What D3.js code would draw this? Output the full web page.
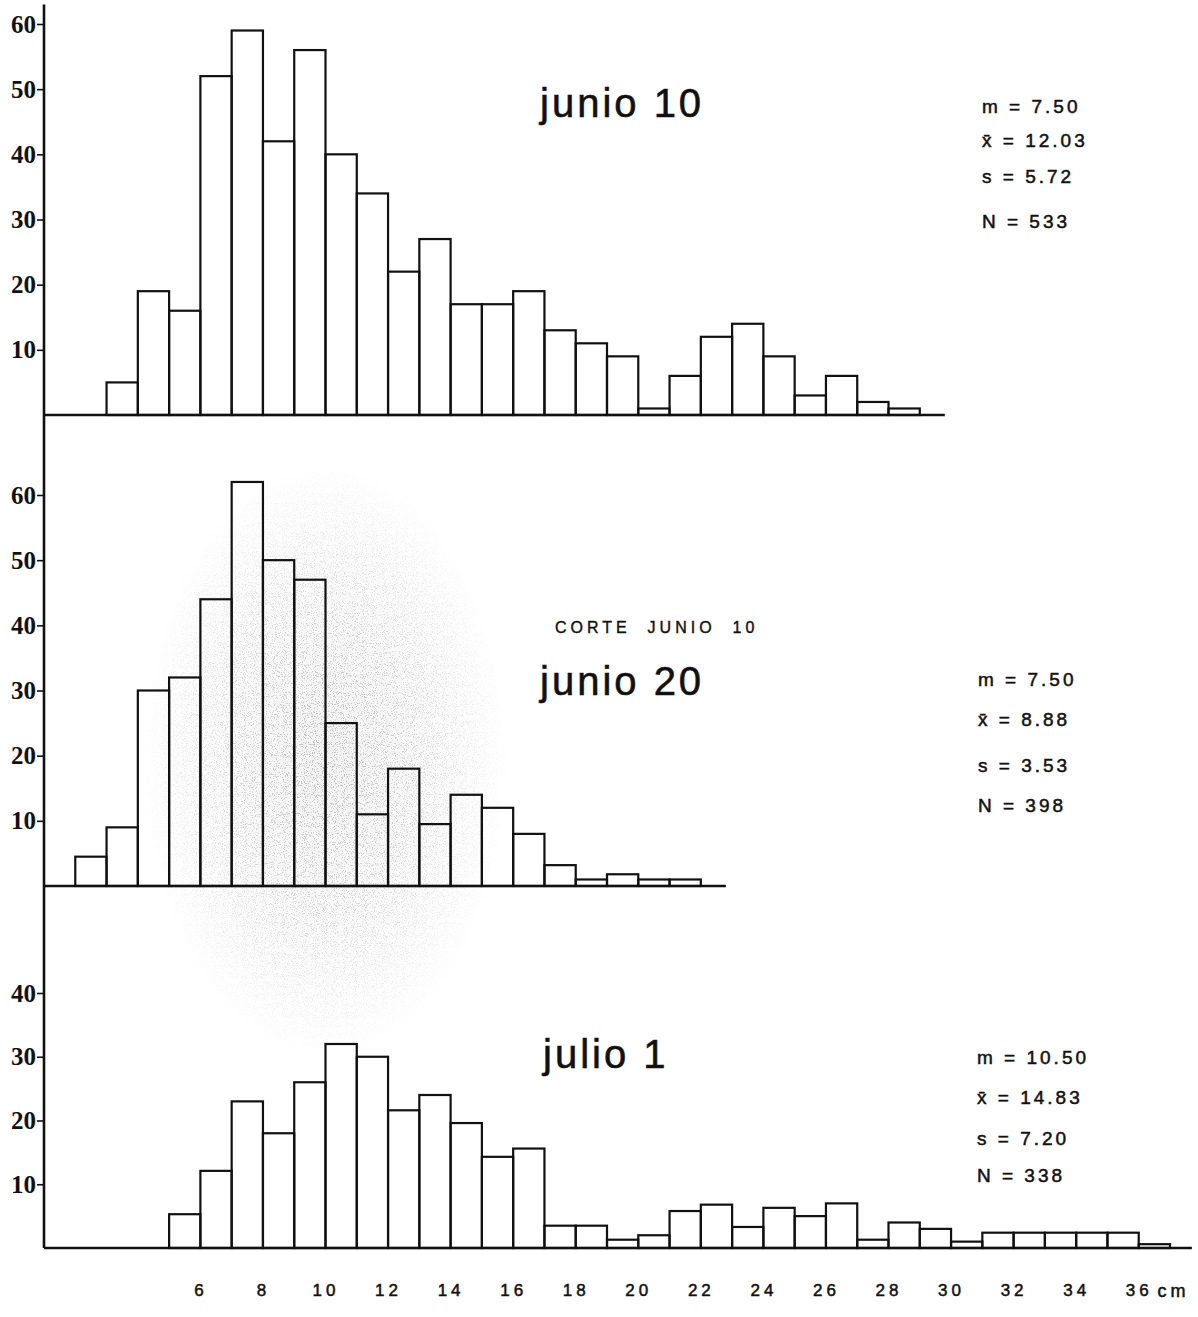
<!DOCTYPE html>
<html>
<head>
<meta charset="utf-8">
<script src="https://cdn.jsdelivr.net/npm/d3@7"></script>
<style>
body{margin:0;background:#fff}
svg{display:block}
</style>
</head>
<body>
<script>
// length classes in cm (start of each 1 cm class) and counts
var binsJun10=[3,4,5,6,7,8,9,10,11,12,13,14,15,16,17,18,19,20,21,22,23,24,25,26,27,28]
var countsJun10=[5,19,16,52,59,42,56,40,34,22,27,17,17,19,13,11,9,1,6,12,14,9,3,6,2,1]

var binsJun20=[2,3,4,5,6,7,8,9,10,11,12,13,14,15,16,17,18,19,20,21]
var countsJun20=[4.5,9,30,32,44,62,50,47,25,11,18,9.5,14,12,8,3.2,1,1.8,1,1]

var binsJul1=[5,6,7,8,9,10,11,12,13,14,15,16,17,18,19,20,21,22,23,24,25,26,27,28,29,30,31,32,33,34,35,36]
var countsJul1=[5.3,12.1,23,18,26,32,30,21.6,24,19.6,14.3,15.6,3.5,3.5,1.3,2,5.8,6.8,3.3,6.3,5,7,1.3,4,3,1,2.4,2.4,2.4,2.4,2.4,0.6]

var statsJun10=["m = 7.50","x\u0304 = 12.03","s = 5.72","N = 533"]
var statsJun20=["m = 7.50","x\u0304 = 8.88","s = 3.53","N = 398"]
var statsJul1=["m = 10.50","x\u0304 = 14.83","s = 7.20","N = 338"]

var yTicksTall=[10,20,30,40,50,60]
var yTicksShort=[10,20,30,40]
var xTicks=[6,8,10,12,14,16,18,20,22,24,26,28,30,32,34,36]

var screen={width:1198,height:1317}
var svg=d3.select("body").append("svg").attr("width",screen.width).attr("height",screen.height)
svg.append("rect").attr("width",screen.width).attr("height",screen.height).attr("fill","#fff")

var xScale=d3.scaleLinear().domain([1,37]).range([44,1170])

// stippled shading left by the "corte" (photocopy tone)
var defs=svg.append("defs")
var grad=defs.append("radialGradient").attr("id","shade")
grad.append("stop").attr("offset","0%").attr("stop-color","#000").attr("stop-opacity",0.8)
grad.append("stop").attr("offset","50%").attr("stop-color","#000").attr("stop-opacity",0.45)
grad.append("stop").attr("offset","100%").attr("stop-color","#000").attr("stop-opacity",0)
var filt=defs.append("filter").attr("id","stipple").attr("x",0).attr("y",0).attr("width",1).attr("height",1)
filt.append("feTurbulence").attr("type","fractalNoise").attr("baseFrequency",0.9).attr("numOctaves",2).attr("seed",7).attr("result","noise")
filt.append("feColorMatrix").attr("in","noise").attr("type","matrix")
    .attr("values","0 0 0 0 0.4  0 0 0 0 0.4  0 0 0 0 0.4  7 0 0 0 -3.8").attr("result","dots")
filt.append("feComposite").attr("in","dots").attr("in2","SourceGraphic").attr("operator","in")

svg.append("ellipse").attr("cx",325).attr("cy",760).attr("rx",185).attr("ry",300)
   .attr("fill","url(#shade)").attr("opacity",0.06)
svg.append("ellipse").attr("cx",325).attr("cy",760).attr("rx",185).attr("ry",300)
   .attr("fill","url(#shade)").attr("filter","url(#stipple)")

var drawPanel=function(bins,counts,yDomain,yRange,ticks,baseEnd){
  var yScale=d3.scaleLinear().domain(yDomain).range(yRange)
  var g=svg.append("g")
  g.selectAll("rect")
   .data(counts)
   .enter()
   .append("rect")
   .attr("x",function(d,i){return xScale(bins[i])})
   .attr("y",function(d){return yScale(d)})
   .attr("width",function(d,i){return xScale(bins[i]+1)-xScale(bins[i])})
   .attr("height",function(d){return yScale(0)-yScale(d)})
   .attr("fill","none")
   .attr("stroke","#111")
   .attr("stroke-width",2.2)
  g.append("line")
   .attr("x1",xScale(1)).attr("x2",xScale(baseEnd))
   .attr("y1",yScale(0)).attr("y2",yScale(0))
   .attr("stroke","#111").attr("stroke-width",2.6)
  var yAxis=d3.axisLeft(yScale).tickValues(ticks).tickSize(7).tickPadding(1)
  var ax=g.append("g").attr("transform","translate("+xScale(1)+",0)").call(yAxis)
  ax.select(".domain").remove()
  ax.selectAll(".tick line").attr("stroke","#111").attr("stroke-width",1.6)
  ax.selectAll(".tick text")
    .attr("fill","#111")
    .style("font-family","'Liberation Serif', serif")
    .style("font-weight","bold")
    .style("font-size","25px")
  return yScale
}

var drawStats=function(lines,x,ys){
  svg.append("g").selectAll("text")
     .data(lines)
     .enter()
     .append("text")
     .attr("x",x)
     .attr("y",function(d,i){return ys[i]})
     .text(function(d){return d})
     .attr("fill","#111")
     .attr("stroke","#111")
     .attr("stroke-width",0.5)
     .style("font-family","'Liberation Sans', Arial, sans-serif")
     .style("font-size","19px")
     .style("letter-spacing","3px")
}

var drawTitle=function(txt,x,y){
  svg.append("text").attr("x",x).attr("y",y).text(txt)
     .attr("fill","#111")
     .attr("stroke","#111")
     .attr("stroke-width",0.6)
     .style("font-family","'Liberation Sans', Arial, sans-serif")
     .style("font-size","40px")
     .style("letter-spacing","3px")
}

var yTop=drawPanel(binsJun10,countsJun10,[0,60],[415,24],yTicksTall,29.8)
var yMid=drawPanel(binsJun20,countsJun20,[0,60],[886,495],yTicksTall,22.8)
var yBot=drawPanel(binsJul1,countsJul1,[0,40],[1248,993],yTicksShort,37.7)

// one continuous vertical axis through the three panels
svg.append("line")
   .attr("x1",xScale(1)).attr("x2",xScale(1))
   .attr("y1",yTop(63)).attr("y2",yBot(0))
   .attr("stroke","#111").attr("stroke-width",2.6)

// shared length axis
var xAxis=d3.axisBottom(xScale).tickValues(xTicks).tickSize(0).tickPadding(36)
var xa=svg.append("g").attr("transform","translate(0,"+yBot(0)+")").call(xAxis)
xa.select(".domain").remove()
xa.selectAll(".tick text")
  .attr("fill","#111")
  .attr("stroke","#111")
  .attr("stroke-width",0.5)
  .style("font-family","'Liberation Sans', Arial, sans-serif")
  .style("font-size","17px")
  .style("letter-spacing","4px")
svg.append("text").attr("x",xScale(36.6)).attr("y",yBot(0)+49).text("cm")
   .attr("fill","#111")
   .attr("stroke","#111")
   .attr("stroke-width",0.5)
   .style("font-family","'Liberation Sans', Arial, sans-serif")
   .style("font-size","18px")
   .style("letter-spacing","4px")

drawTitle("junio 10",540,117)
drawTitle("junio 20",540,695)
drawTitle("julio 1",543,1068)

svg.append("text").attr("x",555).attr("y",633).text("CORTE  JUNIO  10")
   .attr("fill","#111")
   .attr("stroke","#111")
   .attr("stroke-width",0.4)
   .style("white-space","pre")
   .style("font-family","'Liberation Sans', Arial, sans-serif")
   .style("font-size","16px")
   .style("letter-spacing","4px")

drawStats(statsJun10,982,[113,147,183,228])
drawStats(statsJun20,978,[686,726,772,812])
drawStats(statsJul1,977,[1064,1104,1145,1182])
</script>
</body>
</html>
